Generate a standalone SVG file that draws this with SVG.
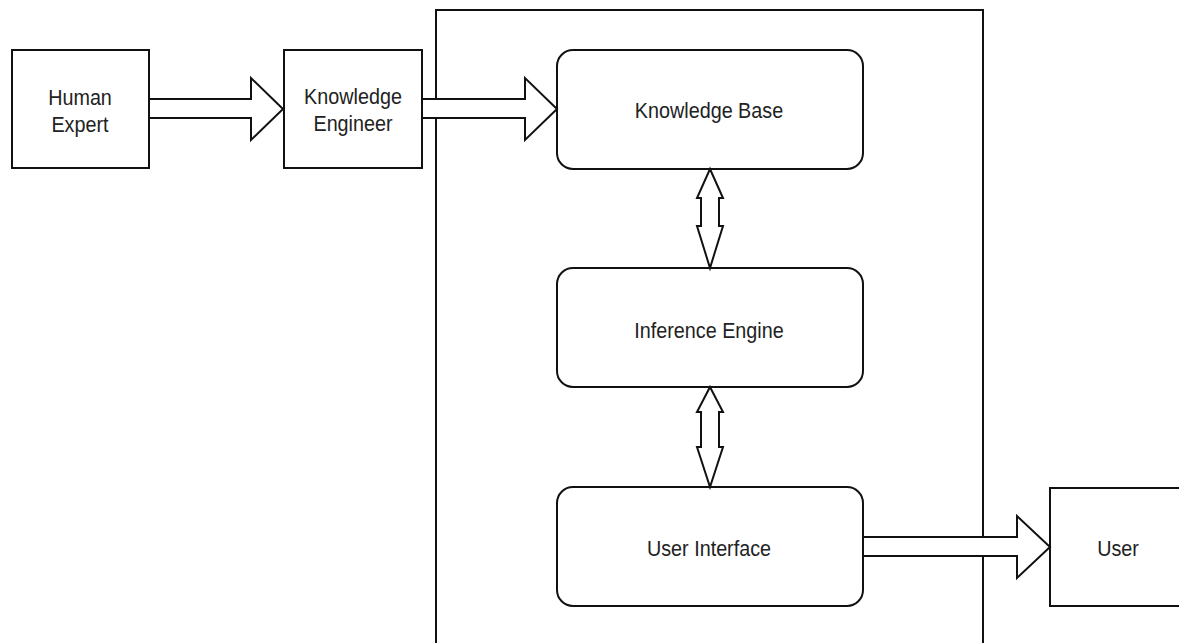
<svg xmlns="http://www.w3.org/2000/svg" width="1179" height="643" viewBox="0 0 1179 643">
<style>
.box{fill:#fff;stroke:#111;stroke-width:2}
.arr{fill:#fff;stroke:#111;stroke-width:2;stroke-linejoin:miter}
text{font-family:"Liberation Sans",Arial,sans-serif;font-size:21.5px;fill:#222;text-anchor:middle}
</style>
<rect width="1179" height="643" fill="#fff"/>
<g id="container"><rect class="box" x="436" y="10" width="547" height="645" fill="none"/></g>
<g id="human-expert"><rect class="box" x="12" y="50" width="137" height="118"/><text transform="matrix(0.92 0 0 1 80 105)">Human</text><text transform="matrix(0.92 0 0 1 80 132)">Expert</text></g>
<g id="knowledge-engineer"><rect class="box" x="284" y="50" width="138" height="118"/><text transform="matrix(0.92 0 0 1 353 104)">Knowledge</text><text transform="matrix(0.92 0 0 1 353 131)">Engineer</text></g>
<g id="knowledge-base"><rect class="box" x="557" y="50" width="306" height="119" rx="16"/><text transform="matrix(0.92 0 0 1 709 118)">Knowledge Base</text></g>
<g id="inference-engine"><rect class="box" x="557" y="268" width="306" height="119" rx="16"/><text transform="matrix(0.92 0 0 1 709 338)">Inference Engine</text></g>
<g id="user-interface"><rect class="box" x="557" y="487" width="306" height="119" rx="16"/><text transform="matrix(0.92 0 0 1 709 556)">User Interface</text></g>
<g id="user"><rect class="box" x="1050" y="488" width="140" height="118"/><text transform="matrix(0.92 0 0 1 1118 556)">User</text></g>
<g id="connectors">
<path class="arr" d="M149 99 H251 V78 L283 109 L251 140 V118 H149 Z"/>
<path class="arr" d="M422 99 H525 V78 L557 109 L525 140 V118 H422 Z"/>
<path class="arr" d="M710 169 L723 198 H719 V226 H723 L710 268 L697 226 H701 V198 H697 Z"/>
<path class="arr" d="M710 387 L723 412 H719 V447 H723 L710 487 L697 447 H701 V412 H697 Z"/>
<path class="arr" d="M863 537 H1017 V516 L1050 547 L1017 578 V556 H863 Z"/>
</g>
</svg>
